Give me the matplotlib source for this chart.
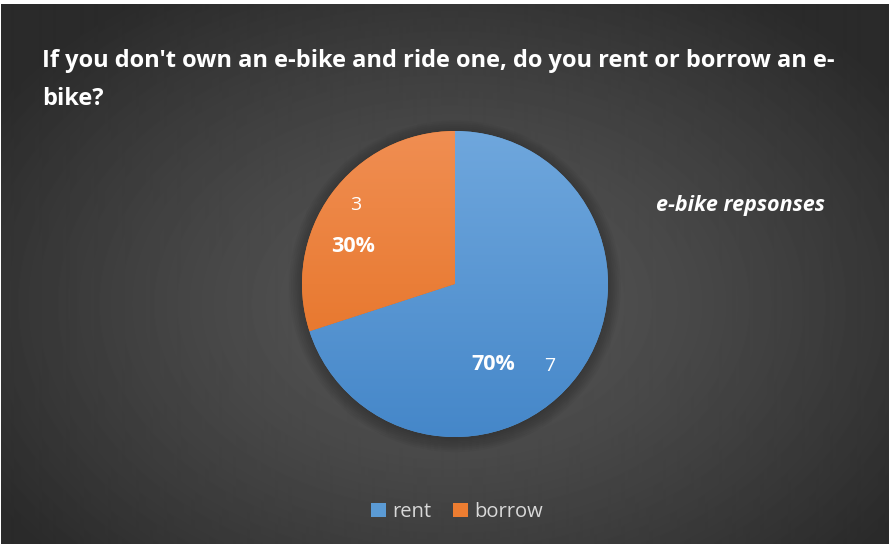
import numpy as np
import matplotlib
matplotlib.use("Agg")
import matplotlib.pyplot as plt
from matplotlib.colors import LinearSegmentedColormap

# survey answers
categories = ["rent", "borrow"]
counts = [7, 3]
title = "If you don't own an e-bike and ride one, do you rent or borrow an e-\nbike?"
series_name = "e-bike repsonses"

top_colors = ["#6fa7dd", "#f08e52"]
bottom_colors = ["#4587c9", "#e46e1e"]
base_colors = ["#5b9bd5", "#ed7d31"]

W, H = 893, 544
plt.rcParams["font.family"] = ["Open Sans", "DejaVu Sans"]
fig = plt.figure(figsize=(W / 100, H / 100), dpi=100, facecolor="white")

def px(x0, y0, w, h):
    # pixel box (top-left origin) -> figure fraction rect
    return [x0 / W, 1 - (y0 + h) / H, w / W, h / H]

# dark radial background
bg = fig.add_axes(px(1, 4, 887, 540))
bg.set_axis_off()
yy, xx = np.mgrid[0:540, 0:887]
d = np.sqrt(((xx - 450) / 520.0) ** 2 + ((yy - 300) / 360.0) ** 2)
shade = np.clip(0.335 - 0.16 * d ** 1.4, 0.165, 0.335)
bg.imshow(shade, cmap="gray", vmin=0, vmax=1, aspect="auto",
          extent=(0, 1, 0, 1), interpolation="bilinear")
bg.set_xlim(0, 1)
bg.set_ylim(0, 1)

# pie, centred at (455, 284) px with radius 153 px
cx, cy, r = 455, 284, 153
ax = fig.add_axes(px(cx - r - 20, cy - r - 20, 2 * r + 40, 2 * r + 40))
lim = (r + 20) / r
wedges, _ = ax.pie(counts, colors=base_colors, startangle=90, counterclock=False,
                   radius=1, wedgeprops=dict(linewidth=0))
ax.set_aspect("equal")
ax.patch.set_alpha(0)

# soft shadow under the pie
for k in range(8):
    ax.add_patch(plt.Circle((0.0, -0.015), 1 + 0.012 * k, color="black",
                            alpha=0.03, zorder=0, linewidth=0))

grad = np.linspace(0, 1, 256).reshape(-1, 1)
for w, c_top, c_bot in zip(wedges, top_colors, bottom_colors):
    cmap = LinearSegmentedColormap.from_list("g", [c_top, c_bot])
    im = ax.imshow(grad, cmap=cmap, extent=(-1, 1, -1, 1), aspect="auto",
                   zorder=2, interpolation="bilinear")
    im.set_clip_path(w)
ax.set_xlim(-lim, lim)
ax.set_ylim(-lim, lim)

# data labels: value and percentage inside each slice
total = sum(counts)
pct_pos = [(-64.6, 0.58), (159.6, 0.71)]
val_pos = [(-41.0, 0.82), (141.7, 0.83)]
for v, (pa, pr), (va, vr) in zip(counts, pct_pos, val_pos):
    ax.text(pr * np.cos(np.radians(pa)), pr * np.sin(np.radians(pa)),
            f"{100 * v / total:.0f}%", color="white", fontsize=15.5,
            fontweight="bold", ha="center", va="center", zorder=5)
    ax.text(vr * np.cos(np.radians(va)), vr * np.sin(np.radians(va)),
            str(v), color="white", fontsize=14, ha="center", va="center", zorder=5)

fig.text(42 / W, 1 - 49 / H, title, color="white", fontsize=17,
         fontweight="bold", ha="left", va="top", linespacing=1.8)

fig.text(740 / W, 1 - 205 / H, series_name, color="white", fontsize=15.5,
         fontweight="bold", style="italic", ha="center", va="center")

leg = fig.legend(wedges, categories, loc="center", bbox_to_anchor=(457 / W, 1 - 512 / H),
                 ncol=2, frameon=False, fontsize=14.5, handlelength=0.75,
                 handleheight=0.75, handletextpad=0.3, columnspacing=1.1)
for t in leg.get_texts():
    t.set_color("#d9d9d9")

fig.savefig("out.png", dpi=100, facecolor="white")
